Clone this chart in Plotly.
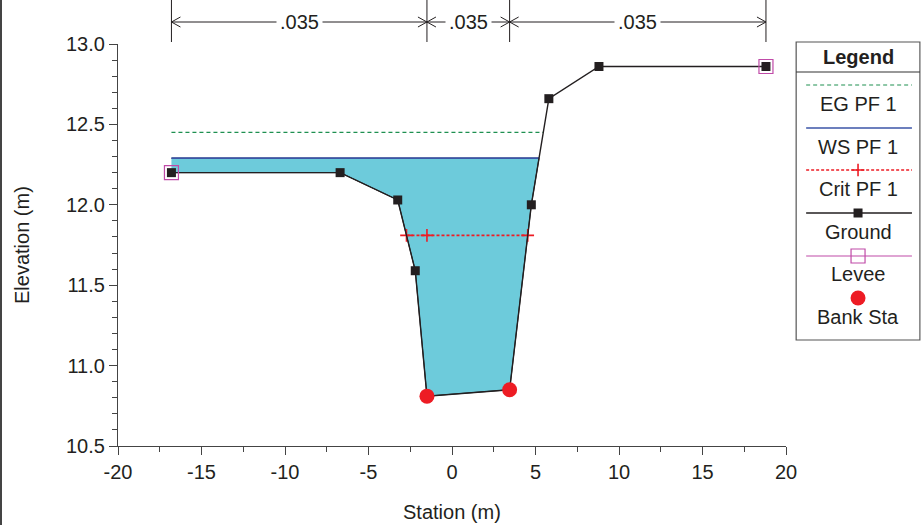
import plotly.graph_objects as go

W, H = 921, 525
FONT = "Liberation Sans, Arial, sans-serif"
INK = "#231F20"
EG_COLOR = "#1E9050"
WS_COLOR = "#3B55A7"
CRIT_COLOR = "#ED1C24"
LEVEE_COLOR = "#C04BA8"

# Cross-section ground points
station = [-16.8, -6.7, -3.25, -2.2, -1.5, 3.45, 4.75, 5.8, 8.8, 18.8]
elevation = [12.2, 12.2, 12.03, 11.59, 10.81, 10.85, 12.0, 12.66, 12.86, 12.86]

levee_sta = [-16.8, 18.8]
levee_elev = [12.2, 12.86]

bank_sta = [-1.5, 3.45]
bank_elev = [10.81, 10.85]

# Profile results
eg_elev = 12.45
ws_elev = 12.29
crit_elev = 11.81

# Manning's n regions
n_breaks = [-16.8, -1.5, 3.45, 18.8]
n_values = [".035", ".035", ".035"]

# Axis ticks
x_ticks = [-20, -15, -10, -5, 0, 5, 10, 15, 20]
x_tick_labels = ["-20", "-15", "-10", "-5", "0", "5", "10", "15", "20"]
y_ticks = [10.5, 11.0, 11.5, 12.0, 12.5, 13.0]
y_tick_labels = ["10.5", "11.0", "11.5", "12.0", "12.5", "13.0"]

# Plot frame in page pixels
PX_L, PX_R, PX_T, PX_B = 118, 786, 44, 446
X_RANGE = [-20, 20]
Y_RANGE = [10.5, 13.0]

CRIT_LINE = dict(color=CRIT_COLOR, width=1.6, dash="3px,2px")
CRIT_MARK = dict(symbol="cross-thin", size=9, line=dict(color=CRIT_COLOR, width=1.6))


def crossing(i, level):
    """Station where the ground segment i -> i+1 reaches a water level."""
    x0, y0, x1, y1 = station[i], elevation[i], station[i + 1], elevation[i + 1]
    return x0 + (level - y0) * (x1 - x0) / (y1 - y0)


def paper_y(py):
    return 1 - py / H


ws_right = crossing(6, ws_elev)
eg_right = crossing(6, eg_elev)
crit_left = crossing(2, crit_elev)
crit_right = crossing(5, crit_elev)

fig = go.Figure()

# Wetted area below the water surface
fill_x = [station[0], ws_right] + station[6::-1]
fill_y = [ws_elev, ws_elev] + elevation[6::-1]
fig.add_trace(go.Scatter(x=fill_x, y=fill_y, fill="toself", fillcolor="#6DCBDB",
                         mode="lines", line=dict(color=INK, width=1),
                         hoverinfo="skip"))

# Energy grade
fig.add_trace(go.Scatter(x=[station[0], eg_right], y=[eg_elev, eg_elev], mode="lines",
                         line=dict(color=EG_COLOR, width=1.2, dash="4px,3px")))
# Water surface
fig.add_trace(go.Scatter(x=[station[0], ws_right], y=[ws_elev, ws_elev], mode="lines",
                         line=dict(color=WS_COLOR, width=1.6)))
# Critical depth
fig.add_trace(go.Scatter(x=[crit_left, bank_sta[0], crit_right], y=[crit_elev] * 3,
                         mode="lines+markers", line=CRIT_LINE, marker=CRIT_MARK))
# Ground
fig.add_trace(go.Scatter(x=station, y=elevation, mode="lines+markers",
                         line=dict(color=INK, width=1.4),
                         marker=dict(symbol="square", size=9, color=INK)))
# Levees
fig.add_trace(go.Scatter(x=levee_sta, y=levee_elev, mode="markers",
                         marker=dict(symbol="square-open", size=14, color=LEVEE_COLOR,
                                     line=dict(width=1.2))))
# Bank stations
fig.add_trace(go.Scatter(x=bank_sta, y=bank_elev, mode="markers",
                         marker=dict(symbol="circle", size=15, color=CRIT_COLOR)))

# ---- Legend panel (drawn on an overlay axis in page pixels) ----
LG_L, LG_R, LG_T, LG_B = 796, 920, 42, 340
lx0, lx1, lc = 806, 912, 858
legend_items = [
    ("EG PF 1", 85, 104, dict(color=EG_COLOR, width=1.2, dash="4px,3px"), None),
    ("WS PF 1", 128, 147, dict(color=WS_COLOR, width=1.6), None),
    ("Crit PF 1", 170, 189, CRIT_LINE, CRIT_MARK),
    ("Ground", 213, 232, dict(color=INK, width=1.4),
     dict(symbol="square", size=9, color=INK)),
    ("Levee", 256, 274, dict(color=LEVEE_COLOR, width=1.2),
     dict(symbol="square-open", size=14, color=LEVEE_COLOR, line=dict(width=1.2))),
    ("Bank Sta", 298, 317, None,
     dict(symbol="circle", size=15, color=CRIT_COLOR)),
]
for label, ly, ty, ln, mk in legend_items:
    if ln is not None:
        fig.add_trace(go.Scatter(x=[lx0, lx1], y=[ly, ly], mode="lines", line=ln,
                                 xaxis="x2", yaxis="y2", hoverinfo="skip"))
    if mk is not None:
        fig.add_trace(go.Scatter(x=[lc], y=[ly], mode="markers", marker=mk,
                                 xaxis="x2", yaxis="y2", hoverinfo="skip"))

annotations = []
shapes = []

shapes.append(dict(type="rect", xref="x2", yref="y2", x0=LG_L, x1=LG_R, y0=LG_T, y1=LG_B,
                   line=dict(color="#555", width=1.2), layer="below"))
shapes.append(dict(type="line", xref="x2", yref="y2", x0=LG_L, x1=LG_R, y0=72, y1=72,
                   line=dict(color="#333", width=1.2)))
annotations.append(dict(xref="x2", yref="y2", x=lc, y=57, text="<b>Legend</b>",
                        showarrow=False, xanchor="center", yanchor="middle",
                        font=dict(size=20, color=INK, family=FONT)))
for label, ly, ty, ln, mk in legend_items:
    annotations.append(dict(xref="x2", yref="y2", x=lc, y=ty, text=label, showarrow=False,
                            xanchor="center", yanchor="middle",
                            font=dict(size=20, color=INK, family=FONT)))

# ---- Manning's n band above the plot ----
px_per_unit = (PX_R - PX_L) / (X_RANGE[1] - X_RANGE[0])
head_dx = 9 / px_per_unit
head_dy = 5 / H
band_y = paper_y(22)
for xb in n_breaks:
    shapes.append(dict(type="line", xref="x", yref="paper", x0=xb, x1=xb,
                       y0=paper_y(0), y1=paper_y(42), line=dict(color=INK, width=1)))
for (a, b), txt in zip(zip(n_breaks[:-1], n_breaks[1:]), n_values):
    shapes.append(dict(type="line", xref="x", yref="paper", x0=a, x1=b,
                       y0=band_y, y1=band_y, line=dict(color=INK, width=1)))
    shapes.append(dict(type="path", xref="x", yref="paper",
                       path=f"M{a + head_dx},{band_y + head_dy} L{a},{band_y} L{a + head_dx},{band_y - head_dy}",
                       line=dict(color=INK, width=1)))
    shapes.append(dict(type="path", xref="x", yref="paper",
                       path=f"M{b - head_dx},{band_y + head_dy} L{b},{band_y} L{b - head_dx},{band_y - head_dy}",
                       line=dict(color=INK, width=1)))
    annotations.append(dict(xref="x", yref="paper", x=(a + b) / 2, y=band_y, text=txt,
                            showarrow=False, xanchor="center", yanchor="middle",
                            bgcolor="white", borderpad=3,
                            font=dict(size=20, color=INK, family=FONT)))

# Page frame line on the left edge
shapes.append(dict(type="line", xref="paper", yref="paper", x0=1 / W, x1=1 / W, y0=0, y1=1,
                   line=dict(color="#444", width=2)))

# Axis titles
annotations.append(dict(xref="paper", yref="paper", x=(PX_L + PX_R) / 2 / W, y=paper_y(512),
                        text="Station (m)", showarrow=False, xanchor="center", yanchor="middle",
                        font=dict(size=20, color=INK, family=FONT)))
annotations.append(dict(xref="paper", yref="paper", x=22 / W, y=paper_y(245),
                        text="Elevation (m)", showarrow=False, textangle=-90,
                        xanchor="center", yanchor="middle",
                        font=dict(size=20, color=INK, family=FONT)))

axis_common = dict(showgrid=False, zeroline=False, showline=True, linecolor="#444",
                   linewidth=1.2, ticks="outside", ticklen=8, tickwidth=1, tickcolor="#444",
                   automargin=False,
                   tickfont=dict(size=20, color=INK, family=FONT))

fig.update_layout(
    template="none",
    width=W, height=H,
    margin=dict(l=0, r=0, t=0, b=0, pad=0),
    paper_bgcolor="white", plot_bgcolor="white",
    showlegend=False,
    font=dict(family=FONT, color=INK),
    xaxis=dict(domain=[PX_L / W, PX_R / W], range=X_RANGE,
               tickmode="array", tickvals=x_ticks, ticktext=x_tick_labels,
               minor=dict(dtick=2.5, tick0=0, ticks="outside", ticklen=5, tickcolor="#444"),
               **axis_common),
    yaxis=dict(domain=[paper_y(PX_B), paper_y(PX_T)], range=Y_RANGE,
               tickmode="array", tickvals=y_ticks, ticktext=y_tick_labels,
               minor=dict(dtick=0.1, tick0=10.5, ticks="outside", ticklen=5, tickcolor="#444"),
               **axis_common),
    xaxis2=dict(domain=[LG_L / W - 0.002, LG_R / W + 0.001], range=[LG_L - 2, LG_R + 1],
                visible=False, fixedrange=True, anchor="y2", automargin=False),
    yaxis2=dict(domain=[paper_y(LG_B + 2), paper_y(LG_T - 2)], range=[LG_B + 2, LG_T - 2],
                visible=False, fixedrange=True, anchor="x2", automargin=False),
    shapes=shapes,
    annotations=annotations,
)

fig.write_html("out.html")
